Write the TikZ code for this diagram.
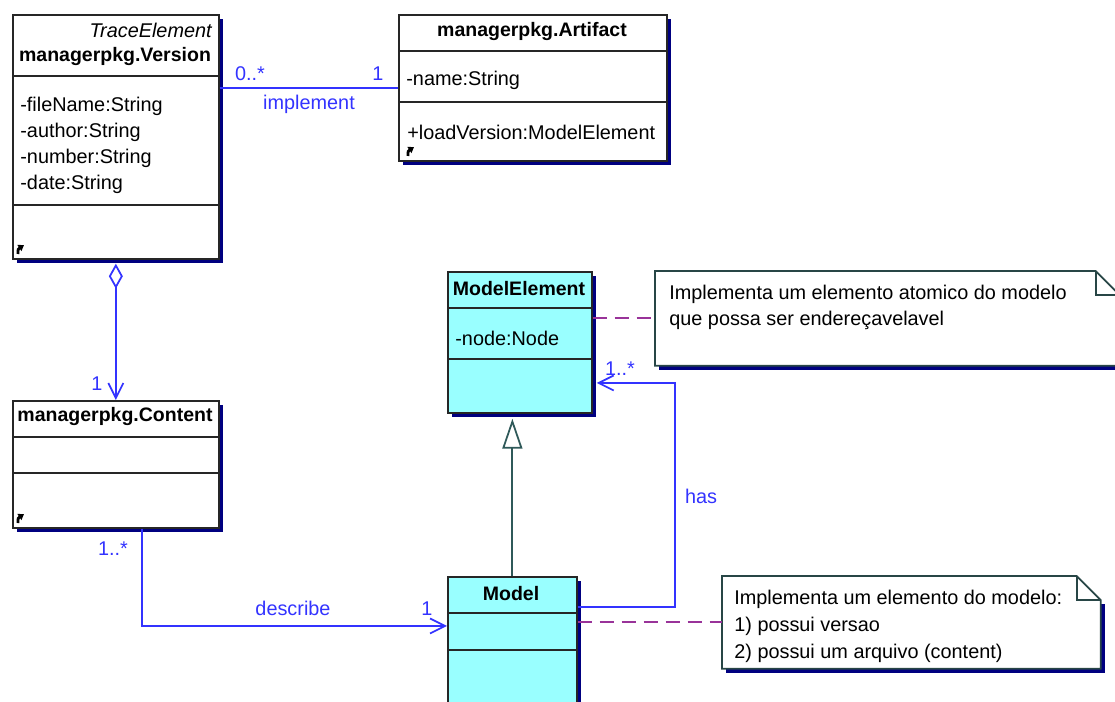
\documentclass[tikz,border=0pt]{standalone}
\usepackage{fontspec}
\setmainfont{Liberation Sans}
\usetikzlibrary{arrows.meta,shadows}

\definecolor{umlblue}{RGB}{51,51,255}
\definecolor{shadowblue}{RGB}{0,0,128}
\definecolor{gencol}{RGB}{47,89,89}
\definecolor{notedash}{RGB}{153,51,153}
\definecolor{cyanfill}{RGB}{153,255,255}
\definecolor{boxline}{RGB}{38,38,38}
\definecolor{noteline}{RGB}{40,70,70}

\begin{document}
\begin{tikzpicture}[x=0.02cm, y=-0.02cm,
        every node/.style={font=\fontsize{11.3}{13}\selectfont},
        classbox/.style={draw=boxline, line width=1pt, fill=white, anchor=north west, inner sep=0,
            general shadow={fill=shadowblue, shadow xshift=0.08cm, shadow yshift=-0.08cm}},
        notebox/.style={anchor=north west, inner sep=0},
        divider/.style={draw=boxline, line width=1pt},
        title/.style={font=\fontsize{11.1}{13}\selectfont\bfseries, inner sep=0, yshift=-0.05cm},
        attr/.style={anchor=west, inner sep=0, yshift=-0.05cm},
        mult/.style={text=umlblue, inner sep=0, yshift=-0.05cm},
        assoc/.style={draw=umlblue, line width=1pt},
        openhead/.style={-{Straight Barb[length=0.3cm, width=0.3cm]}},
        dashlink/.style={draw=notedash, line width=1pt, dash pattern=on 0.28cm off 0.16cm},
        cornerarrow/.style={line width=1.6pt, -{Triangle[length=0.11cm, width=0.14cm]}}
    ]
        \clip (0,0) rectangle (1115,702);

        % classes
        \node [classbox, minimum width=4.12cm, minimum height=4.88cm] (version) at (12,14) {};
        \node [classbox, minimum width=5.36cm, minimum height=2.92cm] (artifact) at (398,14) {};
        \node [classbox, minimum width=4.12cm, minimum height=2.54cm] (content) at (12,400) {};
        \node [classbox, fill=cyanfill, minimum width=2.88cm, minimum height=2.82cm] (modelelem) at (447,271) {};
        \node [classbox, fill=cyanfill, minimum width=2.58cm, minimum height=3.0cm] (model) at (447,576) {};

        \draw [divider] (12,76) -- (218,76);
        \draw [divider] (12,205) -- (218,205);
        \draw [divider] (398,51) -- (666,51);
        \draw [divider] (398,102) -- (666,102);
        \draw [divider] (12,437) -- (218,437);
        \draw [divider] (12,473) -- (218,473);
        \draw [divider] (447,308) -- (591,308);
        \draw [divider] (447,359) -- (591,359);
        \draw [divider] (447,613) -- (576,613);
        \draw [divider] (447,650) -- (576,650);

        \node [anchor=east, inner sep=0, yshift=-0.05cm, font=\fontsize{11.3}{13}\selectfont\itshape] (versionstereo) at (212,28) {TraceElement};
        \node [title] (versiontitle) at (115,54) {managerpkg.Version};
        \node [attr] (vfile) at (20,104) {-fileName:String};
        \node [attr] (vauthor) at (20,130) {-author:String};
        \node [attr] (vnumber) at (20,156) {-number:String};
        \node [attr] (vdate) at (20,182) {-date:String};

        \node [title] (artifacttitle) at (532,29) {managerpkg.Artifact};
        \node [attr] (aname) at (406,78) {-name:String};
        \node [attr] (aload) at (407,130) {+loadVersion:ModelElement};

        \node [title] (contenttitle) at (115,414) {managerpkg.Content};
        \node [title] (modelelemtitle) at (519,286) {ModelElement};
        \node [attr] (menode) at (455,336) {-node:Node};
        \node [title] (modeltitle) at (511,591) {Model};

        % little corner arrows
        \draw [cornerarrow] (18,254) .. controls (18,249) .. (24,245);
        \draw [cornerarrow] (408,156) .. controls (408,151) .. (414,147);
        \draw [cornerarrow] (18,523) .. controls (18,518) .. (24,514);

        % notes
        \node [notebox, minimum width=9.28cm, minimum height=1.88cm] (noteelem) at (655,271) {};
        \node [notebox, minimum width=7.56cm, minimum height=1.84cm] (notemodel) at (722,576) {};
        \fill [shadowblue] ([shift={(0.08cm,-0.08cm)}]noteelem.south west) rectangle ([shift={(0.08cm,-0.56cm)}]noteelem.north east);
        \fill [shadowblue] ([shift={(0.08cm,-0.08cm)}]notemodel.south west) rectangle ([shift={(0.08cm,-0.56cm)}]notemodel.north east);
        \foreach \n in {noteelem, notemodel} {
            \draw [noteline, line width=1pt, fill=white] (\n.south west) -- (\n.north west) -- ([xshift=-0.48cm]\n.north east)
                -- ([yshift=-0.48cm]\n.north east) -- (\n.south east) -- cycle;
            \draw [noteline, line width=1pt] ([xshift=-0.48cm]\n.north east) |- ([yshift=-0.48cm]\n.north east);
        }
        \node [attr] (ne1) at (669,292) {Implementa um elemento atomico do modelo};
        \node [attr] (ne2) at (669,318) {que possa ser endereçavelavel};
        \node [attr] (nm1) at (734,597) {Implementa um elemento do modelo:};
        \node [attr] (nm2) at (734,624) {1) possui versao};
        \node [attr] (nm3) at (734,651) {2) possui um arquivo (content)};

        % connectors
        \draw [assoc] (artifact.west -| version.east) -- (artifact.west);
        \node [mult] (implfrom) at (250,71) {0..*};
        \node [mult] (implto) at (378,71) {1};
        \node [mult] (impllabel) at (309,102) {implement};

        \draw [assoc, {Diamond[length=0.5cm, width=0.28cm, fill=white]}-{Straight Barb[length=0.3cm, width=0.3cm]}, shorten <=0.08cm]
            (version.south) -- (content.north);
        \node [mult] (aggmult) at (97,381) {1};

        \draw [assoc, openhead] ([xshift=0.52cm]content.south) |- ([yshift=-1cm]model.north west);
        \node [mult] (descfrom) at (113,546) {1..*};
        \node [mult] (desclabel) at (293,606) {describe};
        \node [mult] (descto) at (427,606) {1};

        \draw [assoc, openhead, shorten >=0.08cm] ([yshift=-0.62cm]model.north east) -- ++(97,0) |- ([yshift=-2.24cm]modelelem.north east);
        \node [mult] (hasmult) at (620,366) {1..*};
        \node [mult] (haslabel) at (701,494) {has};

        \draw [draw=gencol, line width=1pt, -{Triangle[length=0.6cm, width=0.4cm, fill=white]}, shorten >=0.1cm]
            (model.north) -- (model.north |- modelelem.south);

        \draw [dashlink] (noteelem.west -| modelelem.east) -- (noteelem.west);
        \draw [dashlink] (notemodel.west -| model.east) -- (notemodel.west);
    \end{tikzpicture}
\end{document}
